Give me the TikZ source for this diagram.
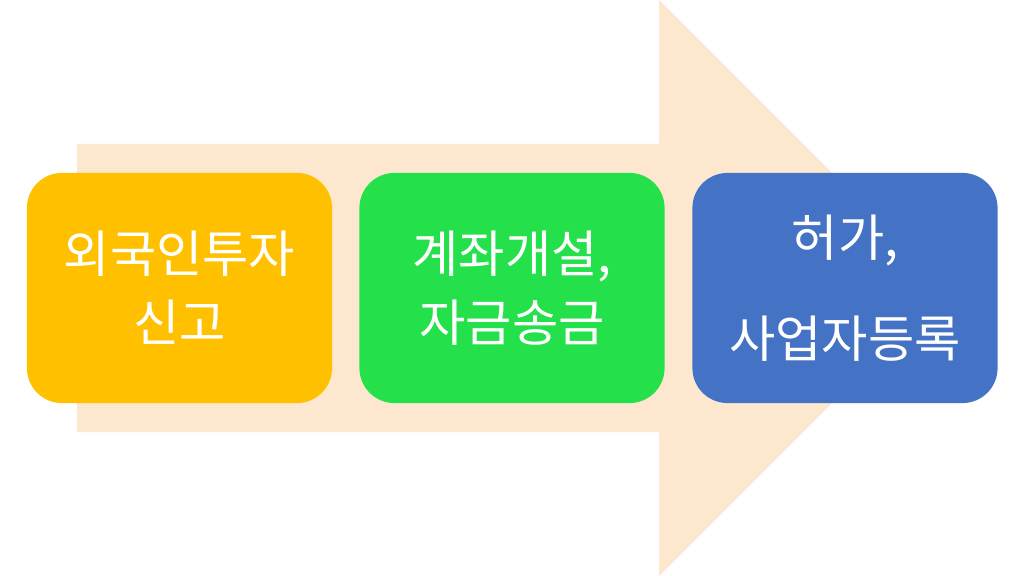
\documentclass[tikz,border=0pt]{standalone}
\usepackage{fontspec}
\newfontfamily\krfont{Noto Sans CJK KR}
\definecolor{peach}{HTML}{FDE8CF}
\definecolor{boxorange}{HTML}{FFC000}
\definecolor{boxgreen}{HTML}{24E04B}
\definecolor{boxblue}{HTML}{4472C4}
\begin{document}
\begin{tikzpicture}[x=0.01cm,y=-0.01cm,
  stepbox/.style={rounded corners=0.35cm, minimum width=3.05cm, minimum height=2.30cm,
    inner sep=0pt, align=center, text=white,
    font=\krfont\fontsize{14.3pt}{19.6pt}\selectfont}]
\useasboundingbox (0,0) rectangle (1024,576);
\fill[white] (0,0) rectangle (1024,576);
% big arrow
\fill[peach] (77,144) -- (659,144) -- (659,0) -- (947,288) -- (659,576) -- (659,432) -- (77,432) -- cycle;
% boxes
\node[stepbox, fill=boxorange] (b1) at (179.5,288) {외국인투자\\신고};
\node[stepbox, fill=boxgreen] (b2) at (512,288) {계좌개설,\\자금송금};
\node[stepbox, fill=boxblue] (b3) at (845,288) {허가,\\[9pt]사업자등록};
\end{tikzpicture}
\end{document}
